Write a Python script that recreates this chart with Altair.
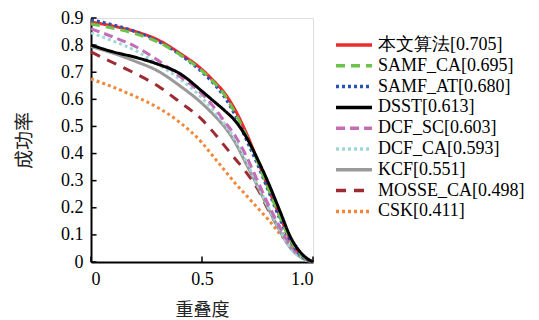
import altair as alt
import pandas as pd

names = ["本文算法[0.705]", "SAMF_CA[0.695]", "SAMF_AT[0.680]", "DSST[0.613]",
         "DCF_SC[0.603]", "DCF_CA[0.593]", "KCF[0.551]", "MOSSE_CA[0.498]", "CSK[0.411]"]
colors = ["#EE2B2B", "#6DC24B", "#2D50B4", "#000000", "#C56CB9", "#9ED8D6",
          "#9A9A9A", "#9E2A32", "#F2873A"]
dashes = [[1, 0], [9, 6], [3, 3], [1, 0], [9, 5], [3, 3], [1, 0], [10, 8], [3, 3]]

xs = [0, 0.1, 0.2, 0.3, 0.4, 0.5, 0.55, 0.6, 0.65, 0.7, 0.75, 0.8, 0.85, 0.9, 0.95, 1.0]
series = {
    "本文算法[0.705]": [0.885, 0.87, 0.85, 0.82, 0.77, 0.71, 0.67, 0.625, 0.56, 0.475, 0.375, 0.27, 0.17, 0.08, 0.025, 0.0],
    "SAMF_CA[0.695]": [0.878, 0.862, 0.842, 0.812, 0.765, 0.705, 0.665, 0.618, 0.548, 0.465, 0.37, 0.268, 0.168, 0.08, 0.024, 0.0],
    "SAMF_AT[0.680]": [0.893, 0.875, 0.85, 0.815, 0.765, 0.70, 0.66, 0.61, 0.54, 0.45, 0.36, 0.26, 0.16, 0.075, 0.02, 0.0],
    "DSST[0.613]": [0.80, 0.775, 0.755, 0.73, 0.695, 0.63, 0.595, 0.56, 0.52, 0.46, 0.38, 0.29, 0.19, 0.09, 0.03, 0.0],
    "DCF_SC[0.603]": [0.86, 0.83, 0.795, 0.745, 0.685, 0.62, 0.575, 0.52, 0.465, 0.39, 0.30, 0.21, 0.13, 0.06, 0.02, 0.0],
    "DCF_CA[0.593]": [0.845, 0.815, 0.78, 0.73, 0.675, 0.605, 0.56, 0.51, 0.45, 0.37, 0.285, 0.20, 0.12, 0.05, 0.015, 0.0],
    "KCF[0.551]": [0.795, 0.77, 0.74, 0.705, 0.65, 0.585, 0.545, 0.50, 0.44, 0.36, 0.28, 0.195, 0.115, 0.05, 0.015, 0.0],
    "MOSSE_CA[0.498]": [0.775, 0.735, 0.695, 0.65, 0.59, 0.525, 0.48, 0.43, 0.38, 0.33, 0.27, 0.19, 0.12, 0.06, 0.02, 0.0],
    "CSK[0.411]": [0.675, 0.645, 0.61, 0.57, 0.515, 0.44, 0.39, 0.34, 0.29, 0.245, 0.20, 0.155, 0.105, 0.06, 0.02, 0.0],
}
draw_order = ["CSK[0.411]", "MOSSE_CA[0.498]", "KCF[0.551]", "DCF_CA[0.593]", "DCF_SC[0.603]",
              "本文算法[0.705]", "SAMF_AT[0.680]", "SAMF_CA[0.695]", "DSST[0.613]"]

x_ticks = [0, 0.5, 1.0]
y_ticks = [0, 0.1, 0.2, 0.3, 0.4, 0.5, 0.6, 0.7, 0.8, 0.9]

rows = []
for n in names:
    for x, y in zip(xs, series[n]):
        rows.append({"name": n, "x": x, "y": y})
df = pd.DataFrame(rows)

FONT = "Times New Roman, Liberation Serif, DejaVu Serif, serif"
CJK = "Noto Sans CJK SC"
xscale = alt.Scale(domain=[0, 1], nice=False)
yscale = alt.Scale(domain=[0, 0.9], nice=False)

x_label_expr = "datum.value == 1 ? '1.0' : (datum.value == 0.5 ? '0.5' : '0')"

xaxis = alt.Axis(values=x_ticks, labelExpr=x_label_expr, title="重叠度", titlePadding=13,
                 tickSize=0, labelPadding=8, grid=False, labelOverlap=False,
                 domainColor="black", domainWidth=2, labelFont=FONT, labelFontSize=18,
                 labelColor="black", titleFont=CJK, titleFontSize=18,
                 titleFontWeight="normal", titleColor="#222")
yaxis = alt.Axis(values=y_ticks, format="~g", title="成功率", titlePadding=26,
                 tickSize=0, labelPadding=8, grid=False, labelOverlap=False,
                 domainColor="black", domainWidth=2, labelFont=FONT, labelFontSize=18,
                 labelColor="black", titleFont=CJK, titleFontSize=19,
                 titleFontWeight="normal", titleColor="#222")

legend = alt.Legend(title=None, orient="none", legendX=254, legendY=18,
                    symbolType="M-3,0H3", symbolSize=144, symbolStrokeWidth=3.5,
                    labelFont=FONT, labelFontSize=18, labelColor="black",
                    rowPadding=2.8, labelOffset=15, padding=0)

base = alt.Chart(df).mark_line(strokeWidth=3, interpolate="monotone").encode(
    x=alt.X("x:Q", scale=xscale, axis=xaxis),
    y=alt.Y("y:Q", scale=yscale, axis=yaxis),
    color=alt.Color("name:N", scale=alt.Scale(domain=names, range=colors), legend=legend),
    strokeDash=alt.StrokeDash("name:N", scale=alt.Scale(domain=names, range=dashes),
                              legend=legend),
)

layers = [base.transform_filter(alt.datum.name == n) for n in draw_order]

xt = pd.DataFrame({"x": x_ticks, "y0": [0] * len(x_ticks), "y1": [0.02] * len(x_ticks)})
yt = pd.DataFrame({"y": y_ticks, "x0": [0] * len(y_ticks), "x1": [0.025] * len(y_ticks)})
xtick = alt.Chart(xt).mark_rule(color="black", strokeWidth=1.5).encode(
    x=alt.X("x:Q", scale=xscale, axis=xaxis), y=alt.Y("y0:Q", scale=yscale, axis=yaxis),
    y2="y1:Q")
ytick = alt.Chart(yt).mark_rule(color="black", strokeWidth=1.5).encode(
    y=alt.Y("y:Q", scale=yscale, axis=yaxis), x=alt.X("x0:Q", scale=xscale, axis=xaxis),
    x2="x1:Q")

chart = alt.layer(*layers, xtick, ytick).properties(
    width=222, height=244,
    autosize=alt.AutoSizeParams(type="none"),
    padding={"left": 83, "top": 10, "right": 218, "bottom": 62},
).configure_view(stroke="black", strokeWidth=2).configure(
    background="white", font=FONT
)

chart.save("out.html", embed_options={"renderer": "svg", "actions": False})
